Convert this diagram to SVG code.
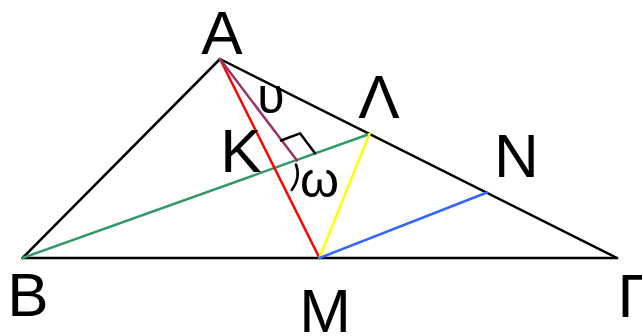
<svg xmlns="http://www.w3.org/2000/svg" width="642" height="336" viewBox="0 0 642 336">
<style>
text{font-family:"Liberation Sans",Arial,sans-serif;fill:#000}
.lbl{font-size:62px;text-anchor:middle}
.gr{font-size:50px;text-anchor:middle}
.e{fill:none;stroke-width:2.5;stroke-linecap:round;stroke-linejoin:round}
.k{stroke:#000}
</style>
<rect width="642" height="336" fill="#fff"/>
<g id="connectors">
<path class="e k" d="M22.5,258 L617,258"/>
<path class="e k" d="M22.5,258 L220,59 L617,258"/>
<path class="e" stroke="#339966" d="M22.5,258 L369.5,134"/>
<path class="e" stroke="#ff0000" d="M220,59 L319.5,258"/>
<path class="e" stroke="#993366" d="M220,59 L297,160.5"/>
<path class="e" stroke="#ffff00" d="M369.5,134 L319.5,258"/>
<path class="e" stroke="#3366ff" d="M319.5,258 L487,192.5"/>
<path class="e k" d="M281,140.5 L300,133.3 L315,153.3"/>
<path class="e k" d="M296,164.5 Q301,178 291.7,190"/>
</g>
<g id="node-A"><text class="lbl" x="222" y="54">A</text></g>
<g id="node-B"><text class="lbl" x="28" y="316">B</text></g>
<g id="node-M"><text class="lbl" x="325" y="331.5">M</text></g>
<g id="node-G"><text class="lbl" x="617.5" y="317" style="text-anchor:start">Γ</text></g>
<g id="node-L"><text class="lbl" x="379" y="118">Λ</text></g>
<g id="node-N"><text class="lbl" x="516.5" y="177">N</text></g>
<g id="node-K"><text class="lbl" x="241" y="172">K</text></g>
<g id="angle-u"><text class="gr" x="271" y="113">υ</text></g>
<g id="angle-w"><text class="gr" x="319.5" y="197">ω</text></g>
</svg>
